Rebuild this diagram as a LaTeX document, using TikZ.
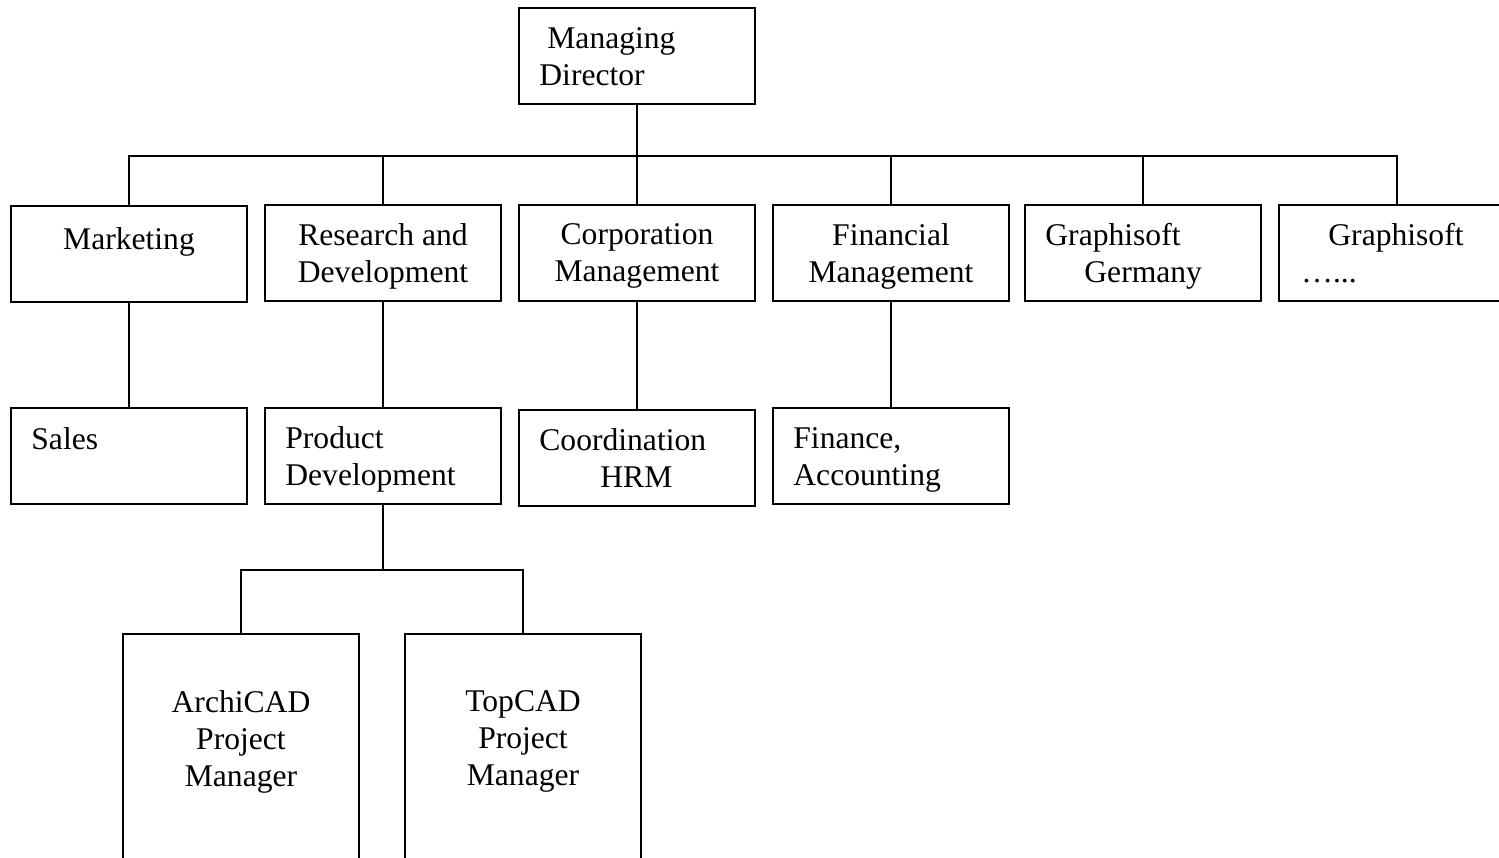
\documentclass[tikz,border=0pt]{standalone}
\usepackage{fontspec}
\setmainfont{Liberation Serif}
\usetikzlibrary{positioning}

\begin{document}
\begin{tikzpicture}[
    x=0.5pt, y=-0.5pt,
    unitbox/.style={draw, rectangle, line width=1pt, minimum width=118pt, minimum height=48pt, inner sep=0pt},
    tallbox/.style={unitbox, minimum height=150pt},
    boxtext/.style={inner sep=0pt, font=\fontsize{15.8}{18.5}\selectfont\strut},
    link/.style={line width=1pt}
]
\useasboundingbox (0,0) rectangle (1499,857);

% --- Managing Director ---
\node[unitbox] (md) at (637,56) {};
\node[boxtext, align=left, below right=10pt and 10.5pt of md.north west] (md-t)
  {\hspace*{4pt}Managing\\Director};

% --- Departments ---
\node[unitbox] (mkt)  at (129,254)  {};
\node[unitbox] (rd)   at (383,253)  {};
\node[unitbox] (corp) at (637,253)  {};
\node[unitbox] (fin)  at (891,253)  {};
\node[unitbox] (gg)   at (1143,253) {};
\node[unitbox] (gx)   at (1397,253) {};

\node[boxtext, align=center, below=9pt of mkt.north] (mkt-t) {Marketing};
\node[boxtext, align=center, below=9.5pt of rd.north] (rd-t) {Research and\\Development};
\node[boxtext, align=center, below=9.5pt of corp.north] (corp-t) {Corporation\\Management};
\node[boxtext, align=center, below=9.5pt of fin.north] (fin-t) {Financial\\Management};
\node[boxtext, align=left, below right=9.5pt and 10.5pt of gg.north west] (gg-t)
  {Graphisoft\\\hspace*{19.5pt}Germany};
\node[boxtext, align=left, below right=9.5pt and 11.5pt of gx.north west] (gx-t)
  {\hspace*{13.5pt}Graphisoft\\…...};

% --- Units ---
\node[unitbox] (sales) at (129,456) {};
\node[unitbox] (pd)    at (383,456) {};
\node[unitbox] (coord) at (637,458) {};
\node[unitbox] (fa)    at (891,456) {};

\node[boxtext, align=left, below right=8pt and 10.5pt of sales.north west] (sales-t) {Sales};
\node[boxtext, align=left, below right=9.5pt and 10.5pt of pd.north west] (pd-t) {Product\\Development};
\node[boxtext, align=left, below right=9.5pt and 10.5pt of coord.north west] (coord-t)
  {Coordination\\\hspace*{30.5pt}HRM};
\node[boxtext, align=left, below right=10pt and 10.5pt of fa.north west] (fa-t) {Finance,\\Accounting};

% --- Project managers ---
\node[tallbox] (ac) at (241,784) {};
\node[tallbox] (tc) at (523,784) {};

\node[boxtext, align=center, below=28.5pt of ac.north] (ac-t) {ArchiCAD\\Project\\Manager};
\node[boxtext, align=center, below=28.5pt of tc.north] (tc-t) {TopCAD\\Project\\Manager};

% --- Lines ---
\coordinate (topbus) at (637,156);
\draw[link] (md) -- (topbus);
\foreach \dept in {mkt,rd,corp,fin,gg,gx}
  \draw[link] (topbus) -| (\dept.north);

\draw[link] (mkt) -- (sales);
\draw[link] (rd) -- (pd);
\draw[link] (corp) -- (coord);
\draw[link] (fin) -- (fa);

\coordinate (pdbus) at (383,570);
\draw[link] (pd) -- (pdbus);
\foreach \proj in {ac,tc}
  \draw[link] (pdbus) -| (\proj.north);

\end{tikzpicture}
\end{document}
